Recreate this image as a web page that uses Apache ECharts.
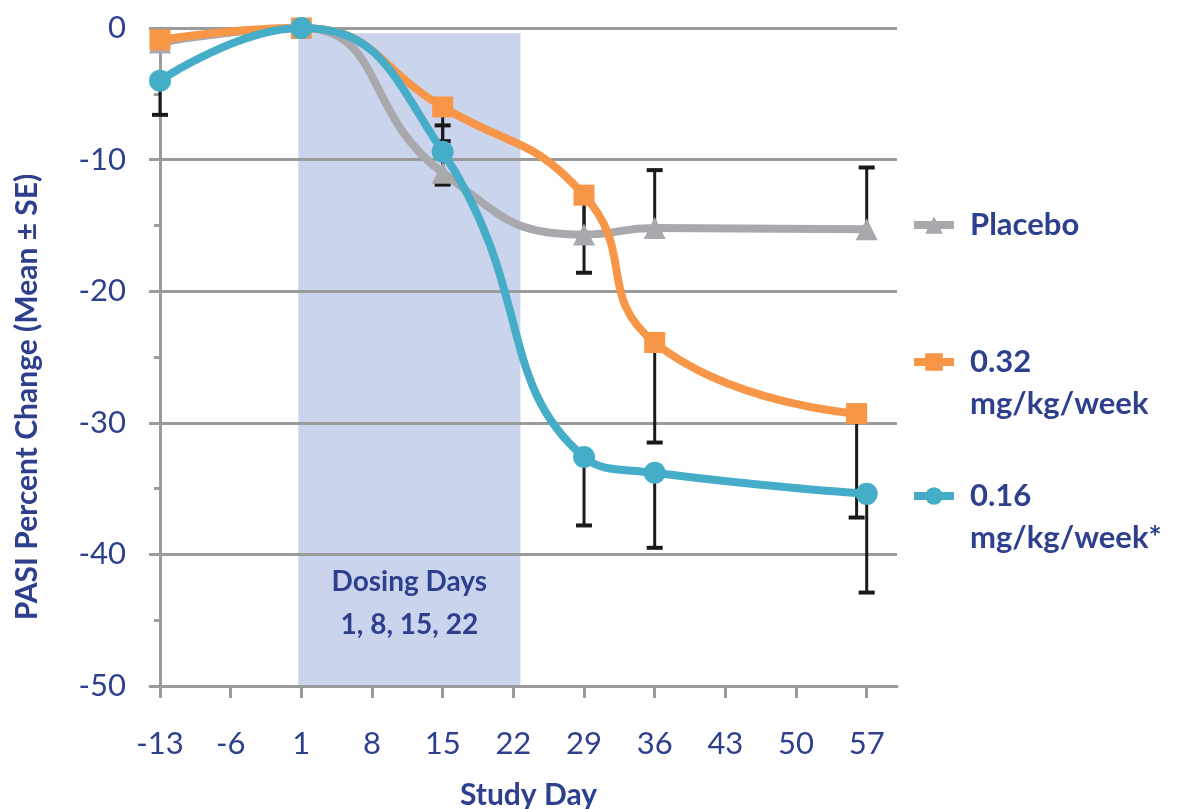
<!DOCTYPE html>
<html>
<head>
<meta charset="utf-8">
<script src="https://cdn.jsdelivr.net/npm/echarts@6/dist/echarts.min.js"></script>
<style>
html,body{margin:0;padding:0;background:#fff;}
#chart{width:1193px;height:809px;}
</style>
</head>
<body>
<div id="chart"></div>
<script>
// ---- data ----
const tickDays = [-13, -6, 1, 8, 15, 22, 29, 36, 43, 50, 57];
const yTicks = [0, -10, -20, -30, -40, -50];

const placeboName = 'Placebo';
const placeboDays = [-13, 1, 15, 29, 36, 57];
const placeboMean = [-1.1, 0, -11.0, -15.7, -15.2, -15.3];
const placeboSEUp = [0.5, 0, 3.6, 2.8, 4.4, 4.7];

const highName = '0.32 mg/kg/week';
const highDays = [-13, 1, 15, 29, 36, 56];
const highMean = [-0.9, 0, -6.0, -12.7, -23.9, -29.3];
const highSEDown = [0.5, 0, 2.6, 5.9, 7.6, 7.9];

const lowName = '0.16 mg/kg/week*';
const lowDays = [-13, 1, 15, 29, 36, 57];
const lowMean = [-4.0, 0, -9.4, -32.6, -33.8, -35.4];
const lowSEDown = [2.6, 0, 2.5, 5.2, 5.7, 7.5];

const dosingStart = 0.7;
const dosingEnd = 22.7;
const dosingText = 'Dosing Days\n1, 8, 15, 22';

// ---- style ----
const TXT = '#2e3f8e';
const GRID = '#9b9b9b';
const FONT = 'Lato, "Open Sans", sans-serif';
const C_PLACEBO = '#a9a9ad';
const C_HIGH = '#f79646';
const C_LOW = '#46adc8';

function pairs(xs, ys){ return xs.map((x,i)=>[x, ys[i]]); }
function errData(xs, ys, es, dir){ return xs.map((x,i)=>[x, ys[i], ys[i] + dir*es[i]]); }

function errRender(params, api){
  const x = api.value(0), m = api.value(1), e = api.value(2);
  if (m === e) return null;
  const p1 = api.coord([x, m]);
  const p2 = api.coord([x, e]);
  const w = 8;
  return {
    type: 'group',
    children: [
      {type:'line', shape:{x1:p1[0], y1:p1[1], x2:p2[0], y2:p2[1]}, style:{stroke:'#1a1a1a', lineWidth:3}},
      {type:'line', shape:{x1:p2[0]-w, y1:p2[1], x2:p2[0]+w, y2:p2[1]}, style:{stroke:'#1a1a1a', lineWidth:4}}
    ]
  };
}

const chart = echarts.init(document.getElementById('chart'), null, {renderer:'canvas'});

function legendFor(name, top){
  return {
    data: [name],
    left: 910,
    top: top,
    padding: 0,
    orient: 'vertical',
    itemWidth: 40,
    itemHeight: 22,
    selectedMode: false,
    lineStyle: {width: 8},
    formatter: n => n === placeboName ? n : '\n' + n.replace(' ', '\n'),
    textStyle: {color: TXT, fontFamily: FONT, fontWeight: 'bold', fontSize: 31, lineHeight: 42, padding:[0,0,0,11]}
  };
}

const option = {
  animation: false,
  backgroundColor: '#fff',
  grid: {left: 160, right: 296, top: 28, bottom: 123, containLabel: false, outerBoundsMode: 'none'},
  legend: [
    legendFor(placeboName, 204),
    legendFor(highName, 299),
    legendFor(lowName, 433)
  ],
  xAxis: {
    type: 'value',
    min: -13, max: 60,
    name: 'Study Day',
    nameLocation: 'middle',
    nameGap: 94,
    nameTextStyle: {color: TXT, fontFamily: FONT, fontWeight: 'bold', fontSize: 30},
    axisLine: {show: true, onZero: false, lineStyle: {color: GRID, width: 3}},
    axisTick: {show: true, length: 12, inside: false, customValues: tickDays, lineStyle: {color: GRID, width: 3}},
    axisLabel: {customValues: tickDays, color: TXT, fontFamily: FONT, fontSize: 31, margin: 42},
    splitLine: {show: false}
  },
  yAxis: {
    type: 'value',
    min: -50, max: 0, interval: 10,
    name: 'PASI Percent Change (Mean ± SE)',
    nameLocation: 'middle',
    nameRotate: 90,
    nameGap: 118,
    nameTextStyle: {color: TXT, fontFamily: FONT, fontWeight: 'bold', fontSize: 30, padding: [0, 80, 0, 0]},
    axisLine: {show: true, onZero: false, lineStyle: {color: GRID, width: 3}},
    axisTick: {show: true, length: 11, inside: false, lineStyle: {color: GRID, width: 3}},
    minorTick: {show: true, splitNumber: 2, length: 6, lineStyle: {color: GRID, width: 3}},
    axisLabel: {color: TXT, fontFamily: FONT, fontSize: 31, margin: 34},
    splitLine: {show: true, lineStyle: {color: GRID, width: 3}}
  },
  series: [
    {
      type: 'line', name: '__dosing', data: [], z: -1,
      markArea: {
        silent: true,
        z: -1,
        itemStyle: {color: '#cad4ec'},
        label: {show: true, position: 'insideBottom', distance: 40, formatter: dosingText,
                color: TXT, fontFamily: FONT, fontWeight: 'bold', fontSize: 28, lineHeight: 43, align: 'center'},
        data: [[{xAxis: dosingStart, yAxis: -0.4}, {xAxis: dosingEnd, yAxis: -50}]]
      }
    },
    {type:'custom', name:'__errP', renderItem: errRender, data: errData(placeboDays, placeboMean, placeboSEUp, 1), z: 1, silent: true, encode:{x:0, y:[1,2]}},
    {type:'custom', name:'__errH', renderItem: errRender, data: errData(highDays, highMean, highSEDown, -1), z: 1, silent: true, encode:{x:0, y:[1,2]}},
    {type:'custom', name:'__errL', renderItem: errRender, data: errData(lowDays, lowMean, lowSEDown, -1), z: 1, silent: true, encode:{x:0, y:[1,2]}},
    {
      type: 'line', name: placeboName, data: pairs(placeboDays, placeboMean), smooth: true, z: 3,
      symbol: 'triangle', symbolSize: 22, lineStyle: {color: C_PLACEBO, width: 8}, itemStyle: {color: C_PLACEBO}, emphasis: {disabled: true}
    },
    {
      type: 'line', name: highName, data: pairs(highDays, highMean), smooth: true, z: 4,
      symbol: 'rect', symbolSize: 21, lineStyle: {color: C_HIGH, width: 8}, itemStyle: {color: C_HIGH}, emphasis: {disabled: true}
    },
    {
      type: 'line', name: lowName, data: pairs(lowDays, lowMean), smooth: true, z: 5,
      symbol: 'circle', symbolSize: 22, lineStyle: {color: C_LOW, width: 8}, itemStyle: {color: C_LOW}, emphasis: {disabled: true}
    }
  ]
};
chart.setOption(option);
</script>
</body>
</html>
